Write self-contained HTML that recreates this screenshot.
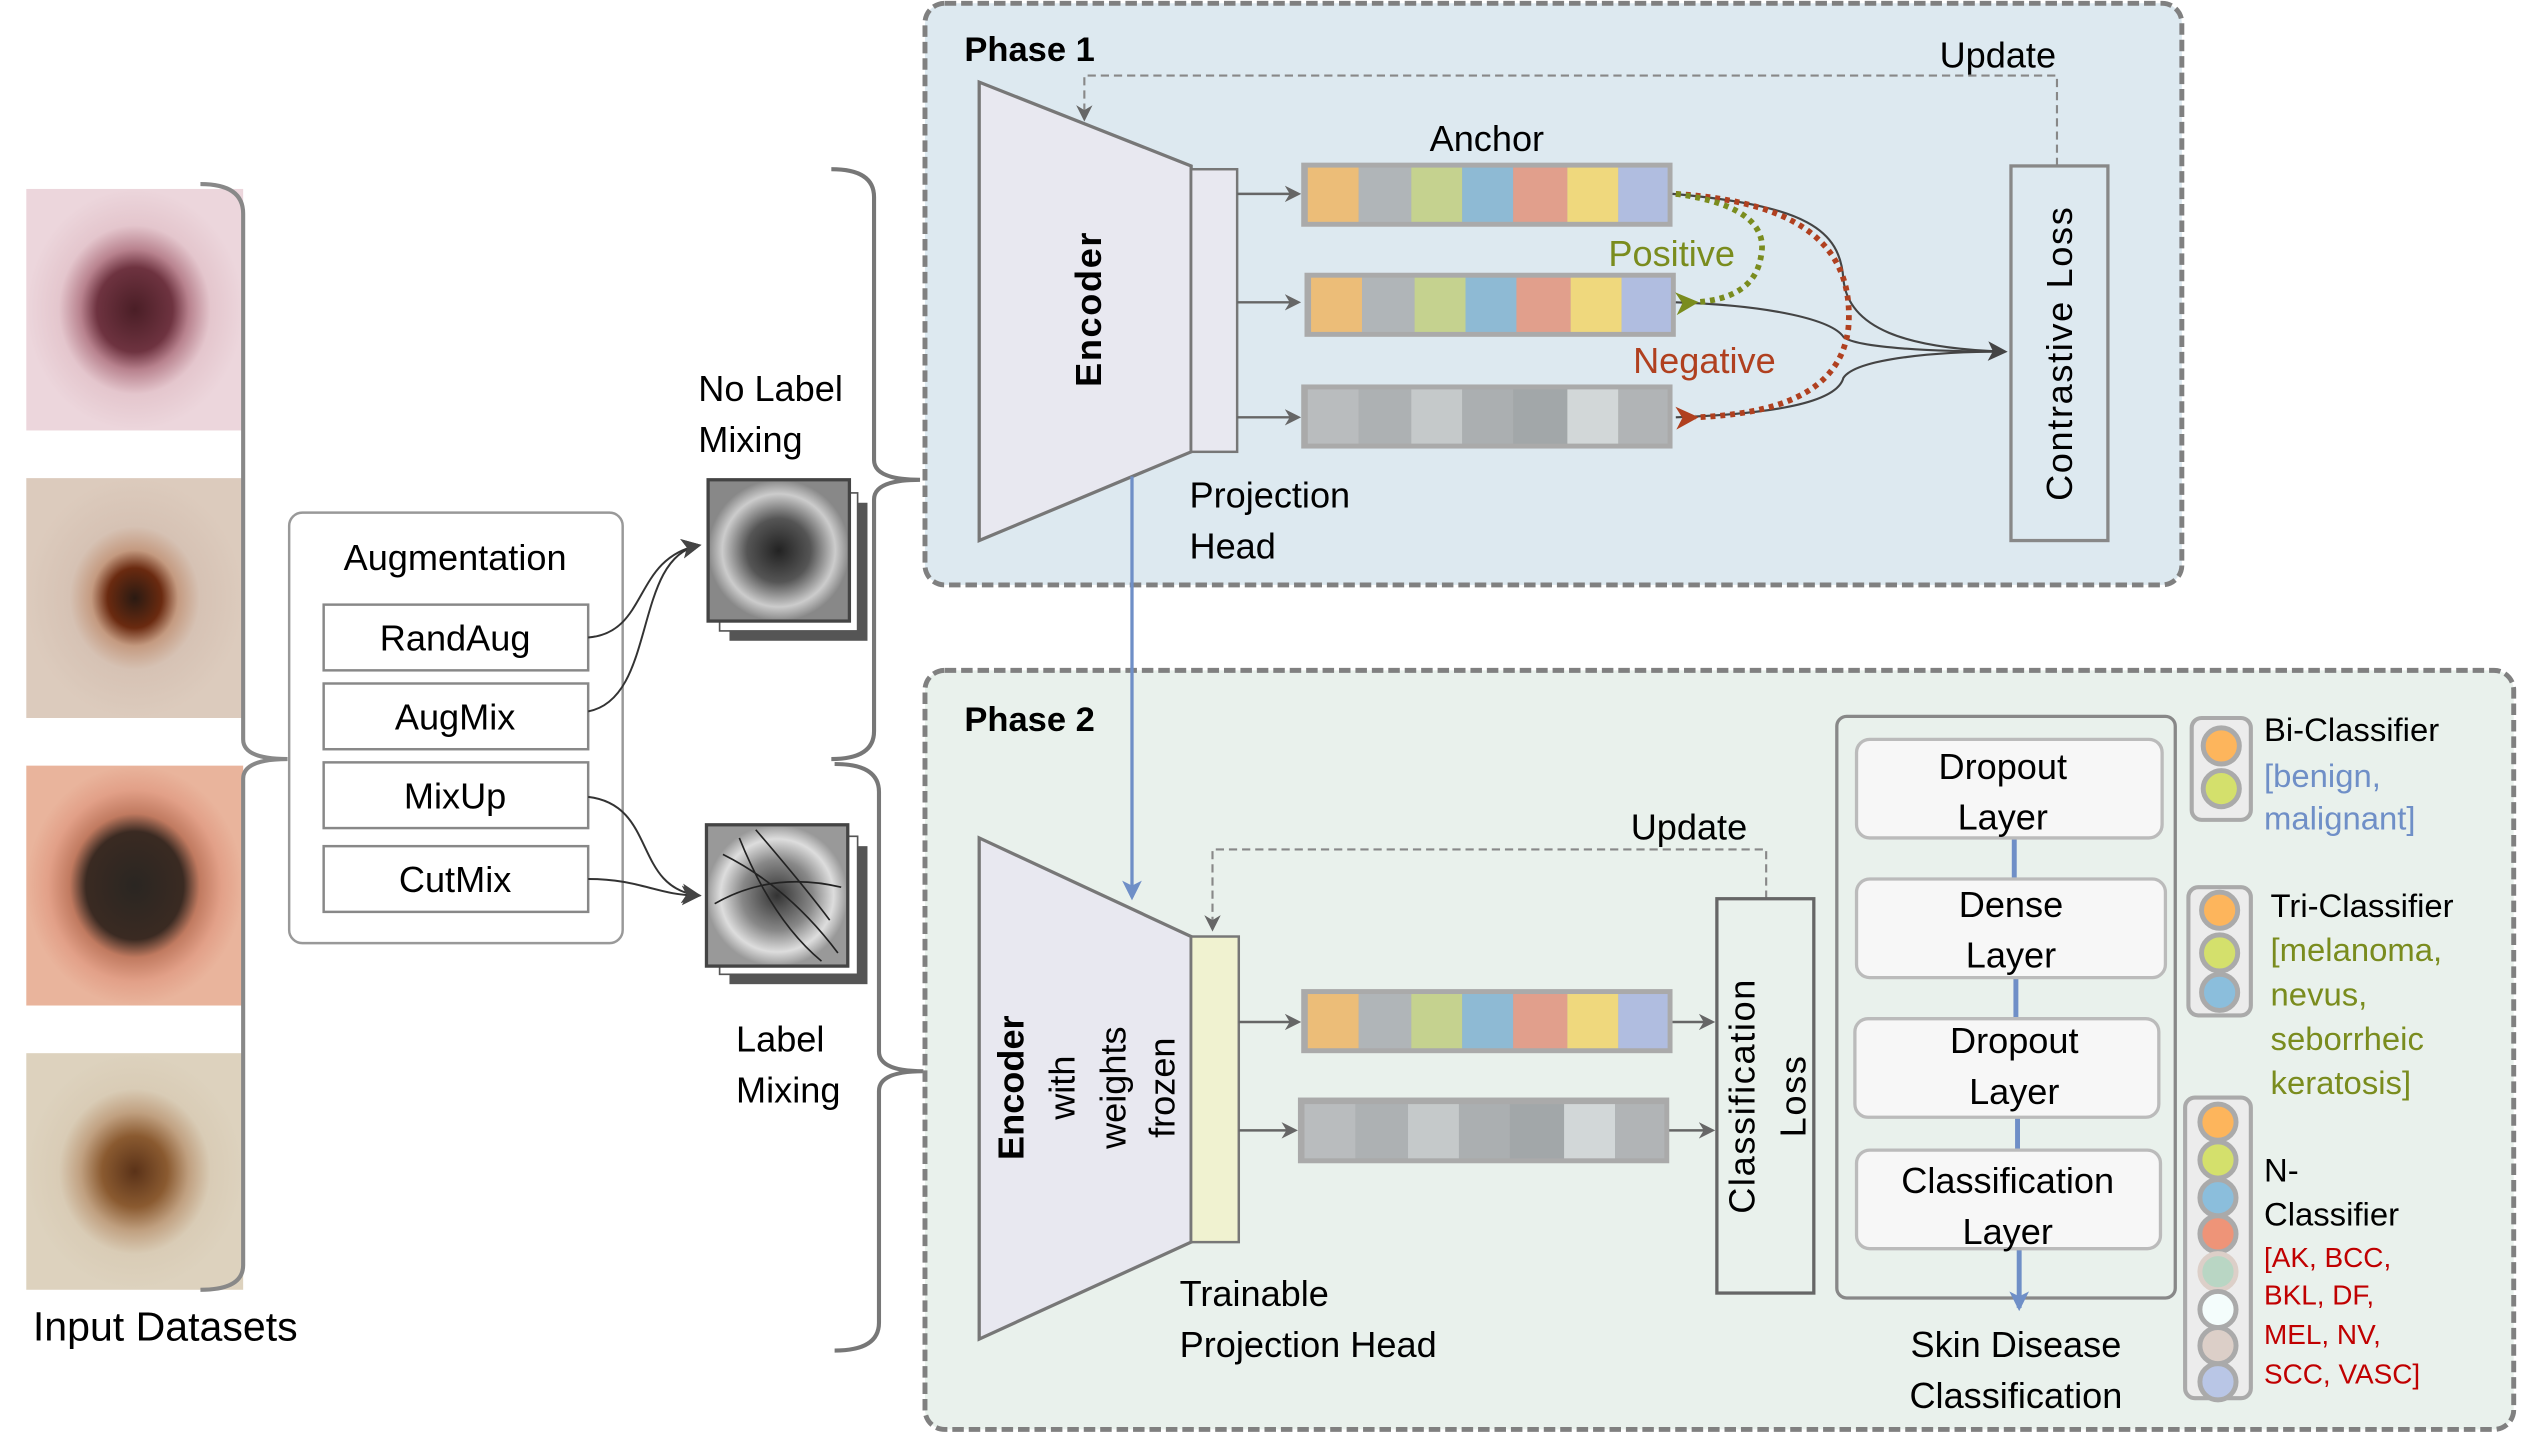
<!DOCTYPE html>
<html><head><meta charset="utf-8"><style>html,body{margin:0;padding:0;background:#fff}svg{display:block}text{font-family:"Liberation Sans",sans-serif}</style></head><body>
<svg width="2540" height="1436" viewBox="0 0 1546 874" preserveAspectRatio="none" xmlns="http://www.w3.org/2000/svg">
<defs>
<marker id="ag" markerWidth="10" markerHeight="10" refX="8" refY="5" orient="auto" markerUnits="userSpaceOnUse"><path d="M0,0 L10,5 L0,10 L3,5z" fill="#666"/></marker>
<marker id="ad" markerWidth="12" markerHeight="12" refX="10" refY="6" orient="auto" markerUnits="userSpaceOnUse"><path d="M0,0 L12,6 L0,12 L3,6z" fill="#444"/></marker>
<marker id="ab" markerWidth="12" markerHeight="12" refX="10" refY="6" orient="auto" markerUnits="userSpaceOnUse"><path d="M0,0 L12,6 L0,12 L3,6z" fill="#6f8fc7"/></marker>
<marker id="ar" markerWidth="14" markerHeight="14" refX="2" refY="7" orient="auto" markerUnits="userSpaceOnUse"><path d="M14,0 L0,7 L14,14 L10,7z" fill="#b0401f"/></marker>
<marker id="agr" markerWidth="14" markerHeight="14" refX="2" refY="7" orient="auto" markerUnits="userSpaceOnUse"><path d="M14,0 L0,7 L14,14 L10,7z" fill="#7a8c1e"/></marker>
<radialGradient id="s1"><stop offset="0" stop-color="#4a1e26"/><stop offset="0.35" stop-color="#6e3340"/><stop offset="0.5" stop-color="#b8828e"/><stop offset="0.7" stop-color="#e4c6cd"/><stop offset="1" stop-color="#ecd6dc"/></radialGradient>
<radialGradient id="s2"><stop offset="0" stop-color="#2a1a12"/><stop offset="0.25" stop-color="#6a2a10"/><stop offset="0.4" stop-color="#c49a80"/><stop offset="0.6" stop-color="#d6c2b4"/><stop offset="1" stop-color="#dccbbd"/></radialGradient>
<radialGradient id="s3"><stop offset="0" stop-color="#2a2622"/><stop offset="0.45" stop-color="#3a2a22"/><stop offset="0.6" stop-color="#c07a60"/><stop offset="0.8" stop-color="#e2a088"/><stop offset="1" stop-color="#e9b49c"/></radialGradient>
<radialGradient id="s4"><stop offset="0" stop-color="#5a3218"/><stop offset="0.3" stop-color="#8a5a30"/><stop offset="0.5" stop-color="#c0a080"/><stop offset="0.7" stop-color="#d9ccb6"/><stop offset="1" stop-color="#ddd2be"/></radialGradient>
<radialGradient id="g1"><stop offset="0" stop-color="#222"/><stop offset="0.45" stop-color="#555"/><stop offset="0.8" stop-color="#ccc"/><stop offset="1" stop-color="#888"/></radialGradient>
<radialGradient id="g2"><stop offset="0" stop-color="#333"/><stop offset="0.5" stop-color="#888"/><stop offset="0.8" stop-color="#ddd"/><stop offset="1" stop-color="#999"/></radialGradient>
</defs>

<!-- skin images -->
<rect x="16" y="115" width="132" height="147" fill="url(#s1)"/>
<rect x="16" y="291" width="132" height="146" fill="url(#s2)"/>
<rect x="16" y="466" width="132" height="146" fill="url(#s3)"/>
<rect x="16" y="641" width="132" height="144" fill="url(#s4)"/>
<path d="M122,112 Q148,112 148,130 L148,450 Q148,462 175,462 Q148,462 148,474 L148,770 Q148,785 122,785" fill="none" stroke="#888" stroke-width="2.5"/>
<text x="20" y="816" font-size="25">Input Datasets</text>

<!-- augmentation -->
<rect x="176" y="312" width="203" height="262" rx="8" fill="#fff" stroke="#999" stroke-width="1.5"/>
<text x="277" y="347" font-size="22" text-anchor="middle">Augmentation</text>
<g fill="#fff" stroke="#888" stroke-width="1.5">
<rect x="197" y="368" width="161" height="40"/><rect x="197" y="416" width="161" height="40"/><rect x="197" y="464" width="161" height="40"/><rect x="197" y="515" width="161" height="40"/></g>
<g font-size="22" text-anchor="middle"><text x="277" y="396">RandAug</text><text x="277" y="444">AugMix</text><text x="277" y="492">MixUp</text><text x="277" y="543">CutMix</text></g>
<g fill="none" stroke="#333" stroke-width="1.2" marker-end="url(#ad)">
<path d="M358,388 C395,385 385,340 425,332"/>
<path d="M358,433 C400,425 385,340 425,332"/>
<path d="M358,485 C400,490 385,540 425,545"/>
<path d="M358,535 C390,535 400,545 425,545"/></g>

<text x="425" y="244" font-size="22">No Label</text><text x="425" y="275" font-size="22">Mixing</text>
<rect x="444" y="306" width="84" height="84" fill="#555"/><rect x="438" y="300" width="84" height="84" fill="#fff" stroke="#555"/>
<rect x="431" y="292" width="86" height="86" fill="url(#g1)" stroke="#444" stroke-width="2"/>
<rect x="444" y="515" width="84" height="84" fill="#555"/><rect x="438" y="509" width="84" height="84" fill="#fff" stroke="#555"/>
<rect x="430" y="502" width="86" height="86" fill="url(#g2)" stroke="#444" stroke-width="2"/>
<g stroke="#222" stroke-width="1" fill="none"><path d="M440,520 Q480,540 510,580"/><path d="M450,510 Q470,560 500,585"/><path d="M435,550 Q470,530 512,540"/><path d="M460,505 Q490,540 505,560"/></g>
<text x="448" y="640" font-size="22">Label</text><text x="448" y="671" font-size="22">Mixing</text>

<!-- braces -->
<path d="M506,103 Q532,103 532,120 L532,280 Q532,292 560,292 Q532,292 532,304 L532,445 Q532,462 506,462" fill="none" stroke="#777" stroke-width="2.5"/>
<path d="M508,465 Q535,465 535,482 L535,640 Q535,652 562,652 Q535,652 535,664 L535,805 Q535,822 508,822" fill="none" stroke="#777" stroke-width="2.5"/>

<!-- Phase 1 -->
<rect x="563" y="2" width="765" height="354" rx="12" fill="#dde9f0" stroke="#808080" stroke-width="3" stroke-dasharray="7,3"/>
<text x="587" y="37" font-size="21" font-weight="bold">Phase 1</text>
<text x="1216" y="41" font-size="22" text-anchor="middle">Update</text>
<path d="M1252,101 L1252,46 L660,46 L660,72" fill="none" stroke="#888" stroke-width="1.3" stroke-dasharray="5,3" marker-end="url(#ag)"/>
<polygon points="596,50 725,101 725,275 596,329" fill="#e8e8f0" stroke="#777" stroke-width="2"/>
<text transform="translate(670,188) rotate(-90)" font-size="22" font-weight="bold" text-anchor="middle" letter-spacing="1">Encoder</text>
<rect x="725" y="103" width="28" height="172" fill="#e8e8f0" stroke="#777" stroke-width="1.5"/>
<g stroke="#666" stroke-width="1.5" marker-end="url(#ag)"><line x1="753" y1="118" x2="790" y2="118"/><line x1="753" y1="184" x2="790" y2="184"/><line x1="753" y1="254" x2="790" y2="254"/></g>
<text x="905" y="92" font-size="22" text-anchor="middle">Anchor</text>
<g id="vc">
<rect x="792" y="99" width="226" height="39" fill="#aaa"/>
<rect x="796" y="102" width="31" height="33" fill="#ecbd78"/><rect x="827" y="102" width="32" height="33" fill="#b0b5b8"/><rect x="859" y="102" width="31" height="33" fill="#c5d28f"/><rect x="890" y="102" width="31" height="33" fill="#8ebad4"/><rect x="921" y="102" width="33" height="33" fill="#e19f8c"/><rect x="954" y="102" width="31" height="33" fill="#efd87d"/><rect x="985" y="102" width="30" height="33" fill="#b0bde0"/></g>
<use href="#vc" transform="translate(2,67)"/>
<rect x="792" y="234" width="226" height="39" fill="#aaa"/>
<g><rect x="796" y="237" width="31" height="33" fill="#b9bcbe"/><rect x="827" y="237" width="32" height="33" fill="#adb1b3"/><rect x="859" y="237" width="31" height="33" fill="#c5c9ca"/><rect x="890" y="237" width="31" height="33" fill="#abafb1"/><rect x="921" y="237" width="33" height="33" fill="#a2a7a9"/><rect x="954" y="237" width="31" height="33" fill="#d2d7d8"/><rect x="985" y="237" width="30" height="33" fill="#b1b4b6"/></g>
<g fill="none" stroke="#444" stroke-width="1.3">
<path d="M1018,118 C1100,125 1120,140 1122,170 C1125,200 1160,212 1220,214" marker-end="url(#ad)"/>
<path d="M1020,184 C1080,186 1115,195 1122,205 C1130,212 1180,214 1220,214"/>
<path d="M1020,254 C1080,252 1118,245 1122,230 C1130,218 1180,214 1220,214"/></g>
<path d="M1020,118 C1080,122 1130,140 1125,200 C1120,240 1080,252 1032,254" fill="none" stroke="#b0401f" stroke-width="3.5" stroke-dasharray="3,3" marker-end="url(#ar)"/>
<path d="M1020,118 C1065,124 1075,140 1072,155 C1070,170 1060,182 1032,184" fill="none" stroke="#7a8c1e" stroke-width="3.5" stroke-dasharray="3,3" marker-end="url(#agr)"/>
<text x="979" y="162" font-size="22" fill="#7a8c1e">Positive</text>
<text x="994" y="227" font-size="22" fill="#b0401f">Negative</text>
<rect x="1224" y="101" width="59" height="228" fill="none" stroke="#888" stroke-width="2"/>
<text transform="translate(1261,215) rotate(-90)" font-size="22" text-anchor="middle" letter-spacing="1">Contrastive Loss</text>
<text x="724" y="309" font-size="22">Projection</text><text x="724" y="340" font-size="22">Head</text>

<!-- Phase 2 -->
<rect x="563" y="408" width="967" height="462" rx="12" fill="#e9f1ec" stroke="#808080" stroke-width="3" stroke-dasharray="7,3"/>
<line x1="689" y1="290" x2="689" y2="546" stroke="#6f8fc7" stroke-width="2" marker-end="url(#ab)"/>
<text x="587" y="445" font-size="21" font-weight="bold">Phase 2</text>
<text x="1028" y="511" font-size="22" text-anchor="middle">Update</text>
<path d="M1075,547 L1075,517 L738,517 L738,565" fill="none" stroke="#888" stroke-width="1.3" stroke-dasharray="5,3" marker-end="url(#ag)"/>
<polygon points="596,510 725,570 725,756 596,815" fill="#e8e8f0" stroke="#777" stroke-width="2"/>
<g font-size="22" text-anchor="middle">
<text transform="translate(623,662) rotate(-90)" font-weight="bold">Encoder</text>
<text transform="translate(654,662) rotate(-90)">with</text>
<text transform="translate(685,662) rotate(-90)">weights</text>
<text transform="translate(715,662) rotate(-90)">frozen</text></g>
<rect x="725" y="570" width="29" height="186" fill="#f0f2d0" stroke="#777" stroke-width="1.5"/>
<g stroke="#666" stroke-width="1.5" marker-end="url(#ag)"><line x1="754" y1="622" x2="790" y2="622"/><line x1="754" y1="688" x2="788" y2="688"/><line x1="1018" y1="622" x2="1042" y2="622"/><line x1="1015" y1="688" x2="1042" y2="688"/></g>
<use href="#vc" transform="translate(0,503)"/>
<rect x="790" y="668" width="226" height="40" fill="#aaa"/>
<g><rect x="794" y="672" width="31" height="33" fill="#b9bcbe"/><rect x="825" y="672" width="32" height="33" fill="#adb1b3"/><rect x="857" y="672" width="31" height="33" fill="#c5c9ca"/><rect x="888" y="672" width="31" height="33" fill="#abafb1"/><rect x="919" y="672" width="33" height="33" fill="#a2a7a9"/><rect x="952" y="672" width="31" height="33" fill="#d2d7d8"/><rect x="983" y="672" width="30" height="33" fill="#b1b4b6"/></g>
<rect x="1045" y="547" width="59" height="240" fill="none" stroke="#666" stroke-width="2"/>
<text transform="translate(1068,667) rotate(-90)" font-size="22" text-anchor="middle" letter-spacing="1">Classification</text>
<text transform="translate(1099,667) rotate(-90)" font-size="22" text-anchor="middle" letter-spacing="1">Loss</text>
<text x="718" y="795" font-size="22">Trainable</text><text x="718" y="826" font-size="22">Projection Head</text>

<rect x="1118" y="436" width="206" height="354" rx="6" fill="none" stroke="#888" stroke-width="2"/>
<g stroke="#6f8fc7" stroke-width="3"><line x1="1226" y1="510" x2="1226" y2="535"/><line x1="1227" y1="595" x2="1227" y2="620"/><line x1="1228" y1="680" x2="1228" y2="700"/></g>
<line x1="1229" y1="760" x2="1229" y2="796" stroke="#6f8fc7" stroke-width="3" marker-end="url(#ab)"/>
<g fill="#f7f7f7" stroke="#bbb" stroke-width="2">
<rect x="1130" y="450" width="186" height="60" rx="8"/><rect x="1130" y="535" width="188" height="60" rx="8"/><rect x="1129" y="620" width="185" height="60" rx="8"/><rect x="1130" y="700" width="185" height="60" rx="8"/></g>
<g font-size="22" text-anchor="middle">
<text x="1219" y="474">Dropout</text><text x="1219" y="505">Layer</text>
<text x="1224" y="558">Dense</text><text x="1224" y="589">Layer</text>
<text x="1226" y="641">Dropout</text><text x="1226" y="672">Layer</text>
<text x="1222" y="726">Classification</text><text x="1222" y="757">Layer</text>
<text x="1227" y="826">Skin Disease</text><text x="1227" y="857">Classification</text></g>

<!-- classifiers -->
<g stroke="#aaa" stroke-width="2.5" fill="#ececec">
<rect x="1334" y="437" width="36" height="62" rx="6"/><rect x="1332" y="540" width="38" height="78" rx="6"/><rect x="1330" y="668" width="40" height="183" rx="6"/></g>
<g stroke="#aaa" stroke-width="3">
<circle cx="1352" cy="454" r="11" fill="#fdb55c"/><circle cx="1352" cy="480" r="11" fill="#d4e06c"/>
<circle cx="1351" cy="554" r="11" fill="#fdb55c"/><circle cx="1351" cy="580" r="11" fill="#d4e06c"/><circle cx="1351" cy="604" r="11" fill="#8bbedc"/>
<circle cx="1350" cy="683" r="11" fill="#fdb55c"/><circle cx="1350" cy="706" r="11" fill="#d4e06c"/><circle cx="1350" cy="729" r="11" fill="#8bbedc"/><circle cx="1350" cy="751" r="11" fill="#ee9478"/><circle cx="1350" cy="774" r="11" fill="#b9d6c4" stroke="#dccfc8"/><circle cx="1350" cy="797" r="11" fill="#f4fdfc"/><circle cx="1350" cy="819" r="11" fill="#dccfc8"/><circle cx="1350" cy="841" r="11" fill="#b9c6e6"/></g>
<g font-size="20">
<text x="1378" y="451">Bi-Classifier</text>
<text x="1378" y="479" fill="#6f8fc7">[benign,</text><text x="1378" y="505" fill="#6f8fc7">malignant]</text>
<text x="1382" y="558">Tri-Classifier</text>
<g fill="#7a8c1e"><text x="1382" y="585">[melanoma,</text><text x="1382" y="612">nevus,</text><text x="1382" y="639">seborrheic</text><text x="1382" y="666">keratosis]</text></g>
<text x="1378" y="719">N-</text><text x="1378" y="746">Classifier</text></g>
<g font-size="17" fill="#c00000"><text x="1378" y="771">[AK, BCC,</text><text x="1378" y="794">BKL, DF,</text><text x="1378" y="818">MEL, NV,</text><text x="1378" y="842">SCC, VASC]</text></g>
</svg>
</body></html>
